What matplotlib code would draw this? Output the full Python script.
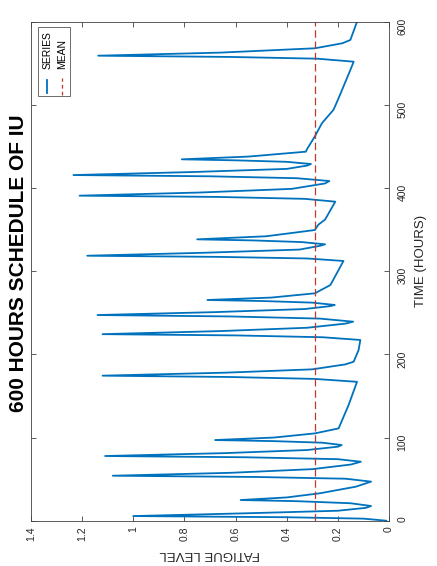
import matplotlib
matplotlib.use("Agg")
import matplotlib.pyplot as plt
from matplotlib.patches import Rectangle
from matplotlib.lines import Line2D

# time (hours) and fatigue level
hours = [0, 2.5, 4.2, 5.6, 9.0, 12.0, 15.5, 17.7,
         21.0, 23.5, 24.9, 28.0, 33.0, 40.9, 47.0,
         50.5, 52.6, 54.1, 57.6, 62.0, 67.5, 70.9,
         74.0, 76.3, 77.8, 81.3, 85.0, 89.0, 91.0,
         93.8, 95.7, 97.0, 100.0, 105.0, 111.0, 139.0, 167.0,
         170.5, 172.8, 174.4, 178.0, 182.0, 188.0, 191.2, 205.0, 217.3,
         220.6, 222.8, 224.3, 228.0, 232.0, 237.0, 239.3,
         243.0, 245.6, 247.3, 250.8, 254.5, 258.0, 259.4,
         262.2, 264.1, 265.4, 268.3, 273.4, 283.4, 312.3,
         315.3, 317.2, 318.6, 322.2, 326.0, 330.5, 332.3,
         335.0, 337.0, 338.3, 342.0, 349.5, 356.0, 362.0, 383.6,
         387.0, 389.3, 390.8, 394.6, 399.0, 405.5, 408.4,
         411.8, 414.1, 415.6, 419.3, 423.0, 427.0, 428.9,
         431.5, 433.3, 434.5, 437.8, 443.7, 447.0, 462.0, 478.0, 494.0,
         508.0, 542.0, 551.9,
         555.5, 557.6, 559.1, 562.8, 568.0, 574.0, 578.0, 600.0]
fatigue = [0.01, 0.10, 0.40, 1.00, 0.55, 0.20, 0.09, 0.07,
           0.15, 0.36, 0.58, 0.40, 0.27, 0.13, 0.07,
           0.17, 0.52, 1.08, 0.62, 0.30, 0.15, 0.11,
           0.20, 0.56, 1.11, 0.64, 0.32, 0.20, 0.185,
           0.26, 0.45, 0.68, 0.45, 0.29, 0.197, 0.158, 0.125,
           0.29, 0.62, 1.12, 0.64, 0.30, 0.17, 0.138, 0.119, 0.112,
           0.26, 0.60, 1.12, 0.66, 0.32, 0.17, 0.14,
           0.27, 0.62, 1.14, 0.68, 0.33, 0.23, 0.212,
           0.30, 0.49, 0.71, 0.46, 0.29, 0.229, 0.178,
           0.32, 0.66, 1.18, 0.72, 0.35, 0.27, 0.25,
           0.34, 0.53, 0.75, 0.48, 0.29, 0.276, 0.25, 0.21,
           0.33, 0.67, 1.21, 0.74, 0.38, 0.25, 0.233,
           0.36, 0.70, 1.234, 0.76, 0.40, 0.32, 0.305,
           0.40, 0.60, 0.81, 0.55, 0.325, 0.32, 0.29, 0.262, 0.217,
           0.197, 0.151, 0.138,
           0.28, 0.62, 1.137, 0.66, 0.29, 0.183, 0.151, 0.125]
mean_level = 0.29

fatigue_ticks = [0, 0.2, 0.4, 0.6, 0.8, 1, 1.2, 1.4]
time_ticks = [0, 100, 200, 300, 400, 500, 600]

series_color = "#0072BD"
mean_color = "#C0392B"
axis_color = "#404040"

plt.rcParams['font.family'] = ['Liberation Sans', 'DejaVu Sans']

fig = plt.figure(figsize=(4.37, 5.66), dpi=100)
ax = fig.add_axes([0.0709, 0.080, 0.8192, 0.8817])

# chart is drawn turned a quarter turn: time runs up, fatigue runs right-to-left
ax.plot(fatigue, hours, color=series_color, lw=1.3,
        solid_joinstyle='round', solid_capstyle='round')
ax.axvline(mean_level, color=mean_color, lw=0.9, dashes=(6, 3))

ax.set_xlim(1.4, 0)
ax.set_ylim(0, 600)
ax.set_xticks(fatigue_ticks)
ax.set_xticklabels([f"{v:g}" for v in fatigue_ticks])
ax.set_yticks(time_ticks)

ax.tick_params(axis='both', direction='in', length=3.6, width=0.6,
               colors=axis_color, labelsize=7.5, labelcolor='#262626')
ax.tick_params(axis='x', top=True, labelrotation=90, pad=4)
ax.tick_params(axis='y', left=True, right=True, labelleft=False,
               labelright=True, labelrotation=90, pad=6)
for s in ax.spines.values():
    s.set_color(axis_color)
    s.set_linewidth(0.6)

ax.set_xlabel("FATIGUE LEVEL", fontsize=9.5, rotation=180, color='#262626')
ax.xaxis.set_label_coords(0.5, -0.054)
ax.yaxis.set_label_position('right')
ax.set_ylabel("TIME (HOURS)", fontsize=9.5, rotation=90, color='#262626')
ax.yaxis.set_label_coords(1.073, 0.52)

fig.text(19 / 437, 1 - 263 / 566, "600 HOURS SCHEDULE OF IU", rotation=90,
         ha='center', va='center', fontsize=15, fontweight='bold')

# legend, built by hand so it sits turned like the rest
tr = ax.transAxes
ax.add_patch(Rectangle((0.0196, 0.851), 0.089, 0.138, transform=tr,
                       facecolor='white', edgecolor='#555555', lw=0.6, zorder=5))
ax.add_line(Line2D([0.046, 0.046], [0.857, 0.883], transform=tr,
                   color=series_color, lw=1.3, zorder=6))
ax.text(0.046, 0.905, "SERIES", transform=tr, rotation=90, ha='center',
        va='bottom', fontsize=7.5, zorder=6)
ax.add_line(Line2D([0.088, 0.088], [0.853, 0.887], transform=tr,
                   color=mean_color, lw=0.9, dashes=(3, 2.5), zorder=6))
ax.text(0.088, 0.905, "MEAN", transform=tr, rotation=90, ha='center',
        va='bottom', fontsize=7.5, zorder=6)

fig.savefig("out.png", dpi=100)
